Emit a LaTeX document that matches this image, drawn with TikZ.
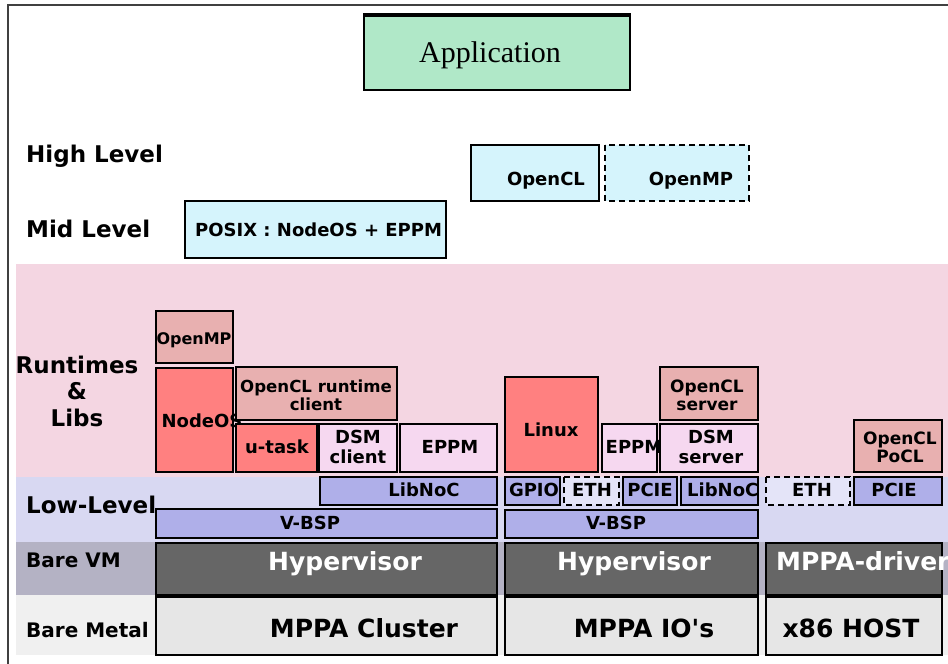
\documentclass[tikz,border=0pt]{standalone}
\usepackage{fontspec}
\setmainfont{DejaVu Sans}
\newfontfamily\appfont{Liberation Serif}
\newcommand{\fsz}[2]{\fontsize{#1}{#2}\selectfont}
\definecolor{appgreen}{HTML}{B0E8C8}
\definecolor{apicyan}{HTML}{D5F4FC}
\definecolor{rtband}{HTML}{F4D6E2}
\definecolor{lowband}{HTML}{D8D8F2}
\definecolor{vmband}{HTML}{B4B2C4}
\definecolor{metalband}{HTML}{F0F0F0}
\definecolor{rosebox}{HTML}{E8B0B0}
\definecolor{redbox}{HTML}{FF8080}
\definecolor{lpinkbox}{HTML}{F6D8F0}
\definecolor{lavbox}{HTML}{AFAFE9}
\definecolor{ethbox}{HTML}{E4E4F8}
\definecolor{hypbox}{HTML}{666666}
\definecolor{hwbox}{HTML}{E6E6E6}

\begin{document}
\begin{tikzpicture}[x=1pt,y=-1pt,
    box/.style={draw=black,line width=1.8pt},
    dbox/.style={draw=black,line width=1.8pt,dash pattern=on 6pt off 4pt},
    lbl/.style={inner sep=0pt,anchor=base west,font=\bfseries\fsz{23}{26.5}},
    sublbl/.style={inner sep=0pt,anchor=base west,font=\bfseries\fsz{20}{24}},
    txt/.style={inner sep=0pt,anchor=base,font=\bfseries\fsz{18}{20}},
    twoline/.style={inner sep=0pt,anchor=base,align=center,font=\bfseries\fsz{17}{17.5}},
    big/.style={inner sep=0pt,anchor=base,font=\bfseries\fsz{25}{30}}]
    \useasboundingbox (0,0) rectangle (948,664);
    % frame
    \draw[line width=1.5pt,black!75] (948,5) -- (8,5) -- (8,664);
    % layer bands
    \fill[rtband] (16,264) rectangle (948,477);
    \fill[lowband] (16,477) rectangle (948,542);
    \fill[vmband] (16,542) rectangle (948,595);
    \fill[metalband] (16,595) rectangle (948,655);
    % application and programming models
    \draw[box,fill=appgreen] (364,14) rectangle (630,90);
    \draw[line width=4pt] (364,15) -- (630,15);
    \node[inner sep=0pt,anchor=base,font=\appfont\fsz{30}{34}] (app) at (490,62) {Application};
    \draw[box,fill=apicyan] (471,145) rectangle (599,201);
    \node[txt] (ocl) at (546,185) {OpenCL};
    \draw[dbox,fill=apicyan] (605,145) rectangle (749,201);
    \node[txt] (omp) at (691,185) {OpenMP};
    \fill[apicyan] (185,201) rectangle (446,258);
    \begin{scope}
        \clip (185,201) rectangle (446,258);
        \node[txt,anchor=base west] (posix) at (195,236) {POSIX : NodeOS + EPPM};
    \end{scope}
    \draw[box] (185,201) rectangle (446,258);
    % level names
    \node[lbl] (high) at (26,162) {High Level};
    \node[lbl] (mid) at (26,237) {Mid Level};
    \node[lbl,anchor=base,align=center] (rt) at (77,426) {Runtimes\\\&\\Libs};
    \node[lbl] (low) at (26,513) {Low-Level};
    \node[sublbl] (vm) at (26,567) {Bare VM};
    \node[sublbl] (metal) at (26,637) {Bare Metal};
    % cluster stack
    \draw[box,fill=rosebox] (156,311) rectangle (233,363);
    \node[txt,font=\bfseries\fsz{16}{18}] (c-omp) at (194,344) {OpenMP};
    \draw[box,fill=redbox] (156,368) rectangle (233,472);
    \node[txt] (c-nodeos) at (202,427) {NodeOS};
    \draw[box,fill=rosebox] (236,367) rectangle (397,420);
    \node[twoline,font=\bfseries\fsz{16.6}{18}] (c-ocl) at (316,410) {OpenCL runtime\\client};
    \draw[box,fill=redbox] (236,424) rectangle (317,472);
    \node[txt] (c-utask) at (277,453) {u-task};
    \draw[box,fill=lpinkbox] (319,424) rectangle (397,472);
    \node[twoline,font=\bfseries\fsz{18}{20}] (c-dsm) at (358,463) {DSM\\client};
    \draw[box,fill=lpinkbox] (400,424) rectangle (497,472);
    \node[txt] (c-eppm) at (450,453) {EPPM};
    \draw[box,fill=lavbox] (320,477) rectangle (497,505);
    \node[txt] (c-noc) at (424,496) {LibNoC};
    \draw[box,fill=lavbox] (156,509) rectangle (497,538);
    \node[txt] (c-bsp) at (310,529) {V-BSP};
    \draw[box,fill=hypbox] (156,543) rectangle (497,595);
    \node[big,text=white] (c-hyp) at (345,570) {Hypervisor};
    \draw[box,fill=hwbox] (156,597) rectangle (497,655);
    \node[big] (c-hw) at (364,637) {MPPA Cluster};
    % IO stack
    \draw[box,fill=redbox] (505,377) rectangle (598,472);
    \node[txt] (io-linux) at (551,436) {Linux};
    \draw[box,fill=lpinkbox] (602,424) rectangle (657,472);
    \node[txt] (io-eppm) at (634,453) {EPPM};
    \draw[box,fill=rosebox] (660,367) rectangle (758,420);
    \node[twoline] (io-ocl) at (707,410) {OpenCL\\server};
    \draw[box,fill=lpinkbox] (660,424) rectangle (758,472);
    \node[twoline,font=\bfseries\fsz{18}{20}] (io-dsm) at (711,463) {DSM\\server};
    \draw[box,fill=lavbox] (505,477) rectangle (560,505);
    \node[txt] (io-gpio) at (534,496) {GPIO};
    \draw[dbox,fill=ethbox] (564,477) rectangle (619,505);
    \node[txt] (io-eth) at (592,496) {ETH};
    \draw[box,fill=lavbox] (623,477) rectangle (677,505);
    \node[txt] (io-pcie) at (650,496) {PCIE};
    \fill[lavbox] (681,477) rectangle (758,505);
    \begin{scope}
        \clip (681,477) rectangle (758,505);
        \node[txt,anchor=base west] (io-noc) at (687,496) {LibNoC};
    \end{scope}
    \draw[box] (681,477) rectangle (758,505);
    \draw[box,fill=lavbox] (505,510) rectangle (758,538);
    \node[txt] (io-bsp) at (616,529) {V-BSP};
    \draw[box,fill=hypbox] (505,543) rectangle (758,595);
    \node[big,text=white] (io-hyp) at (634,570) {Hypervisor};
    \draw[box,fill=hwbox] (505,597) rectangle (758,655);
    \node[big] (io-hw) at (644,637) {MPPA IO\textquotesingle s};
    % host stack
    \draw[box,fill=rosebox] (854,420) rectangle (942,472);
    \node[twoline] (h-pocl) at (900,462) {OpenCL\\PoCL};
    \draw[dbox,fill=ethbox] (766,477) rectangle (850,505);
    \node[txt] (h-eth) at (812,496) {ETH};
    \draw[box,fill=lavbox] (854,477) rectangle (942,505);
    \node[txt] (h-pcie) at (894,496) {PCIE};
    \draw[box,fill=hypbox] (766,543) rectangle (942,595);
    \node[big,text=white,anchor=base west] (h-drv) at (776,570) {MPPA-driver};
    \draw[box,fill=hwbox] (766,597) rectangle (942,655);
    \node[big] (h-hw) at (851,637) {x86 HOST};
\end{tikzpicture}
\end{document}
